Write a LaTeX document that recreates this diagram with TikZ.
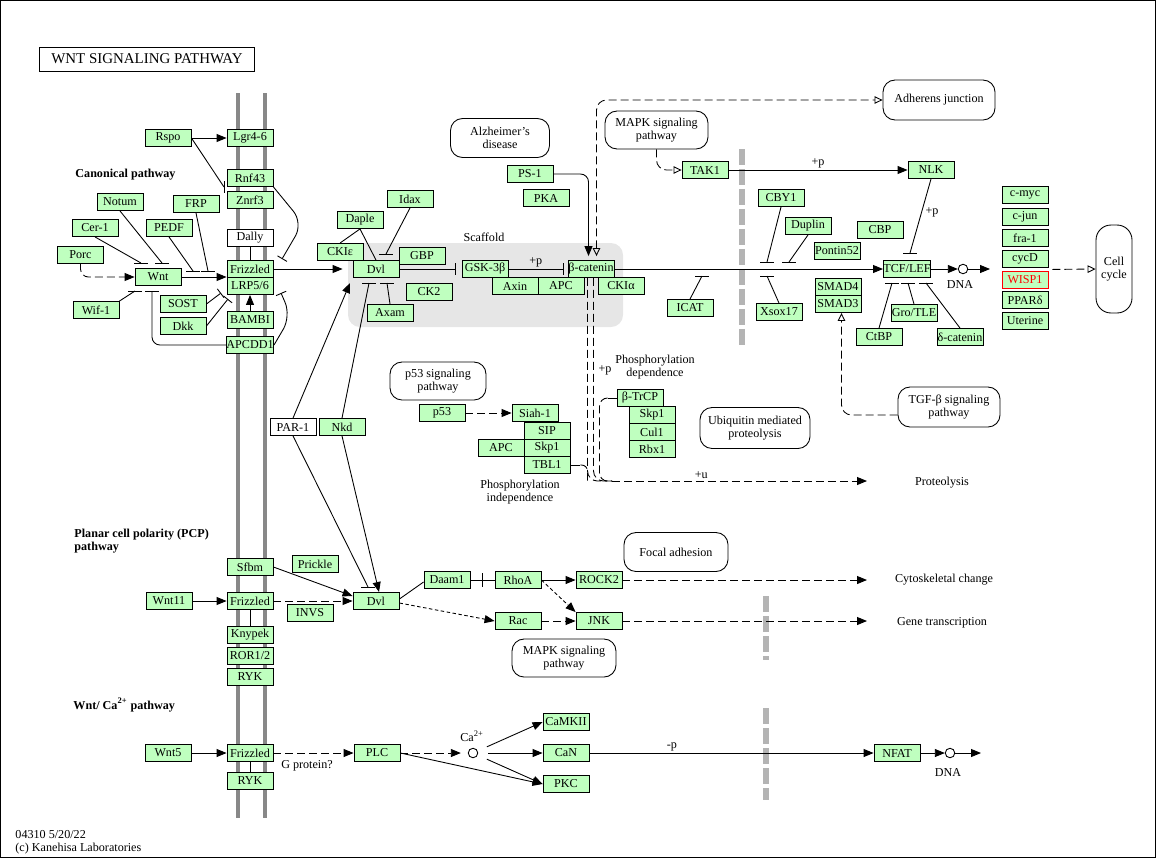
\documentclass[tikz,border=0pt]{standalone}
\usepackage{fontspec}
\setmainfont{Liberation Serif}
\usetikzlibrary{arrows.meta}
\definecolor{kgreen}{HTML}{BFFFBF}
\definecolor{memgray}{HTML}{888888}
\definecolor{dashgray}{HTML}{B4B4B4}
\definecolor{scafgray}{HTML}{E6E6E6}
\newcommand{\kfont}{\fontsize{6.9}{7.2}\selectfont}
% short inhibition bars, horizontal and vertical
\newcommand{\hinh}[1]{\draw (#1) ++(-7,0) -- ++(14,0);}
\newcommand{\vinh}[1]{\draw (#1) ++(0,-6) -- ++(0,12);}

\begin{document}
\begin{tikzpicture}[x=0.02cm, y=-0.02cm, line width=0.5pt, font=\kfont,
    gene/.style={draw, fill=kgreen, minimum width=0.92cm, minimum height=0.34cm, inner sep=0pt},
    whitebox/.style={draw, fill=white, minimum width=0.92cm, minimum height=0.34cm, inner sep=0pt},
    maplink/.style={draw, fill=white, rounded corners=0.24cm, align=center, inner sep=0pt},
    lbl/.style={inner sep=0pt, align=center},
    act/.style={-{Triangle[length=0.2cm,width=0.16cm]}},
    link/.style={-{Triangle[open,length=0.16cm,width=0.15cm]}},
    inh/.style={-{Bar[width=0.22cm]}},
    indirect/.style={dash pattern=on 0.16cm off 0.08cm},
    dotline/.style={dash pattern=on 0.07cm off 0.05cm},
    membrane/.style={memgray, line width=2.2pt},
    nucl/.style={dashgray, line width=3.4pt, dash pattern=on 0.32cm off 0.08cm},
    dnac/.style={draw, circle, fill=white, minimum size=0.19cm, inner sep=0pt}]
  \useasboundingbox (0,0) rectangle (1158,859);
  \draw (0.5,0.5) rectangle (1155.5,857.5);
  \node[draw, minimum width=4.3cm, minimum height=0.48cm, inner sep=0pt, font=\fontsize{8.5}{9}\selectfont] (title) at (147,59) {WNT SIGNALING PATHWAY};

  % cell membrane, nuclear membrane, scaffold
  \draw[membrane] (238,93) -- (238,818);
  \draw[membrane] (265,93) -- (265,818);
  \fill[scafgray, rounded corners=0.24cm] (348,243) rectangle (623,327);
  \node[lbl] (scaf) at (484,237) {Scaffold};
  \draw[nucl] (742,149) -- (742,345);
  \draw[nucl] (766,596) -- (766,660);
  \draw[nucl] (766,708) -- (766,800);

  \node[lbl, anchor=west, font=\kfont\bfseries] (canon) at (75,175) {Canonical pathway};
  \node[lbl, anchor=west, align=left, font=\kfont\bfseries] (pcp) at (74,541) {Planar cell polarity (PCP)\\pathway};
  \node[lbl, anchor=west, font=\kfont\bfseries] (capath) at (73,705) {Wnt/ Ca\textsuperscript{2+} pathway};
  \node[lbl, anchor=west, align=left] (foot) at (15,842) {04310 5/20/22\\(c) Kanehisa Laboratories};

  % canonical pathway, outside the cell
  \node[gene] (rspo) at (168,138) {Rspo};
  \node[gene] (lgr) at (250,138) {Lgr4-6};
  \node[gene] (rnf) at (250,178) {Rnf43};
  \node[gene] (znrf) at (250,200) {Znrf3};
  \node[whitebox] (dally) at (250,238) {Dally};
  \node[gene] (fzd) at (250,269) {Frizzled};
  \node[gene] (lrp) at (250,286) {LRP5/6};
  \node[gene] (bambi) at (250,320) {BAMBI};
  \node[gene] (apcdd) at (250,345) {APCDD1};
  \node[gene] (notum) at (120,202) {Notum};
  \node[gene] (frp) at (196,204) {FRP};
  \node[gene] (cer) at (95,228) {Cer-1};
  \node[gene] (pedf) at (169,228) {PEDF};
  \node[gene] (porc) at (80.5,255) {Porc};
  \node[gene] (wnt) at (158,277) {Wnt};
  \node[gene] (wif) at (96,310) {Wif-1};
  \node[gene] (sost) at (183,304) {SOST};
  \node[gene] (dkk) at (183,326) {Dkk};

  % scaffold
  \node[gene] (dvl) at (376,269) {Dvl};
  \node[gene] (ckie) at (340,252) {CKIε};
  \node[gene] (daple) at (360,220) {Daple};
  \node[gene] (idax) at (410,199) {Idax};
  \node[gene] (gbp) at (422,256) {GBP};
  \node[gene] (ck2) at (429,292) {CK2};
  \node[gene] (axam) at (390,313) {Axam};
  \node[gene] (gsk) at (485,269) {GSK-3β};
  \node[gene] (axin) at (515,286) {Axin};
  \node[gene] (apc) at (561,286) {APC};
  \node[gene] (bcat) at (591,269) {β-catenin};
  \node[gene] (ckia) at (621,286) {CKIα};
  \node[gene] (ps1) at (530,174) {PS-1};
  \node[gene] (pka) at (546,198) {PKA};
  \node[maplink, minimum width=1.98cm, minimum height=0.78cm] (alz) at (500,138) {Alzheimer's\\disease};
  \node[whitebox] (par) at (293,427) {PAR-1};
  \node[gene] (nkd) at (342,427) {Nkd};

  % nucleus side
  \node[maplink, minimum width=2.24cm, minimum height=0.8cm] (aj) at (939,100) {Adherens junction};
  \node[maplink, minimum width=2.06cm, minimum height=0.76cm] (mapka) at (656.5,130) {MAPK signaling\\pathway};
  \node[gene] (tak) at (705,170) {TAK1};
  \node[gene] (nlk) at (931,170) {NLK};
  \node[gene] (cby) at (781,198) {CBY1};
  \node[gene] (duplin) at (808,226) {Duplin};
  \node[gene] (cbp) at (880,230) {CBP};
  \node[gene] (pontin) at (837,251) {Pontin52};
  \node[gene] (tcf) at (907,269) {TCF/LEF};
  \node[gene] (smadf) at (838,287) {SMAD4};
  \node[gene] (smadt) at (838,304) {SMAD3};
  \node[gene] (icat) at (690,308) {ICAT};
  \node[gene] (xsox) at (779,312) {Xsox17};
  \node[gene] (gro) at (914,313) {Gro/TLE};
  \node[gene] (ctbp) at (879,337) {CtBP};
  \node[gene] (dcat) at (960,337) {δ-catenin};
  \node[dnac] (dnaa) at (963,269) {};
  \node[lbl] (dnaal) at (960,285) {DNA};
  \foreach \n/\t/\y in {myc/c-myc/195, jun/c-jun/217, fra/fra-1/238, cycd/cycD/259, ppar/PPARδ/300, ute/Uterine/321}
    \node[gene] (\n) at (1025,\y) {\t};
  \node[gene, draw=red, text=red] (wisp) at (1025,280) {WISP1};
  \node[maplink, minimum width=0.72cm, minimum height=1.76cm, rounded corners=0.3cm] (cc) at (1114,269) {Cell\\cycle};

  % degradation
  \node[maplink, minimum width=1.92cm, minimum height=0.76cm] (pft) at (438,381) {p53 signaling\\pathway};
  \node[gene] (p53) at (442,413) {p53};
  \node[gene] (siah) at (535,413) {Siah-1};
  \node[gene] (sip) at (547,431) {SIP};
  \node[gene] (skpa) at (547,448) {Skp1};
  \node[gene] (apcb) at (501,448) {APC};
  \node[gene] (tbl) at (547,465) {TBL1};
  \node[lbl] (phind) at (520,492) {Phosphorylation\\independence};
  \node[lbl] (php) at (605,370) {+p};
  \node[lbl] (phdep) at (655,367) {Phosphorylation\\dependence};
  \node[gene] (btrcp) at (640,398) {β-TrCP};
  \node[gene] (skpb) at (652,415) {Skp1};
  \node[gene] (cul) at (652,432) {Cul1};
  \node[gene] (rbx) at (652,449) {Rbx1};
  \node[maplink, minimum width=2.2cm, minimum height=0.82cm] (ubq) at (755,428) {Ubiquitin mediated\\proteolysis};
  \node[maplink, minimum width=2.04cm, minimum height=0.8cm] (tgf) at (949,407) {TGF-β signaling\\pathway};
  \node[lbl] (prot) at (942,483) {Proteolysis};

  % PCP pathway
  \node[gene] (sfbm) at (250,567) {Sfbm};
  \node[gene] (wnteleven) at (169,601) {Wnt11};
  \node[gene] (fzdb) at (250,601) {Frizzled};
  \node[gene] (knypek) at (250,635) {Knypek};
  \node[gene] (ror) at (250,656) {ROR1/2};
  \node[gene] (ryk) at (250,677) {RYK};
  \node[gene] (prickle) at (315,564) {Prickle};
  \node[gene] (invs) at (310,613) {INVS};
  \node[gene] (dvlb) at (376,601) {Dvl};
  \node[gene] (daam) at (447,580) {Daam1};
  \node[gene] (rhoa) at (518,580) {RhoA};
  \node[gene] (rock) at (599,580) {ROCK2};
  \node[gene] (rac) at (518,621) {Rac};
  \node[gene] (jnk) at (599,621) {JNK};
  \node[maplink, minimum width=2.08cm, minimum height=0.78cm] (focal) at (676,552) {Focal adhesion};
  \node[maplink, minimum width=2.08cm, minimum height=0.76cm] (mapkb) at (564,658) {MAPK signaling\\pathway};
  \node[lbl] (cyto) at (944,580) {Cytoskeletal change};
  \node[lbl] (genetx) at (942,623) {Gene transcription};

  % Ca2+ pathway
  \node[gene] (wntfive) at (168,753) {Wnt5};
  \node[gene] (fzdc) at (250,753) {Frizzled};
  \node[gene] (rykb) at (250,781) {RYK};
  \node[lbl] (gprot) at (307,766) {G protein?};
  \node[gene] (plc) at (377,753) {PLC};
  \node[dnac] (ca) at (473,753) {};
  \node[lbl] (cal) at (472,736) {Ca\textsuperscript{2+}};
  \node[gene] (camk) at (566,722) {CaMKII};
  \node[gene] (can) at (566,753) {CaN};
  \node[gene] (pkc) at (566,784) {PKC};
  \node[gene] (nfat) at (897,753) {NFAT};
  \node[dnac] (dnab) at (950,753) {};
  \node[lbl] (dnabl) at (948,772) {DNA};

  % free ends of connectors
  \coordinate (rnfbar) at (224,187);
  \coordinate (notumbar) at (162,263);
  \coordinate (cerbar) at (141,263);
  \coordinate (pedfbar) at (193,271);
  \coordinate (frpbar) at (208,271);
  \coordinate (wifbar) at (135,291);
  \coordinate (apcbar) at (152,291);
  \coordinate (sostbar) at (221,293);
  \coordinate (dkkbar) at (228,299);
  \coordinate (idaxbar) at (386,254);
  \coordinate (gskbar) at (455,269);
  \coordinate (bcatbar) at (563,269);
  \coordinate (axambar) at (387,283);
  \coordinate (dvlpar) at (350,283);
  \coordinate (dvlnkd) at (369,283);
  \coordinate (dvlbpar) at (368,587);
  \coordinate (dvlbnkd) at (379,592);
  \coordinate (tcfbar) at (910,253);
  \coordinate (cbybar) at (767,262);
  \coordinate (duplinbar) at (789,262);
  \coordinate (xsoxbar) at (767,276);
  \coordinate (icatbar) at (702,276);
  \coordinate (ctbpbar) at (892,283);
  \coordinate (grobar) at (908,283);
  \coordinate (dcatbar) at (926,283);
  \coordinate (dnaaend) at (990,269);
  \coordinate (ustart) at (612,481);
  \coordinate (uend) at (867,481);
  \coordinate (cytoend) at (867,580);
  \coordinate (geneend) at (867,621);
  \coordinate (dnabend) at (981,753);

  % canonical, at the membrane
  \draw[act] (rspo) -- (lgr);
  \draw (rspo.east) -- (rnfbar); \vinh{rnfbar}
  \draw[inh, rounded corners=0.3cm] (rnf.south east) -- (303,223) -- (282,259);
  \draw (notum.south) -- (notumbar); \hinh{notumbar}
  \draw (cer.south) -- (cerbar); \hinh{cerbar}
  \draw (pedf.south) -- (pedfbar); \hinh{pedfbar}
  \draw (frp.south) -- (frpbar); \hinh{frpbar}
  \draw (wif.north east) -- (wifbar); \hinh{wifbar}
  \draw[rounded corners=0.16cm] (apcdd.west) -| (apcbar); \hinh{apcbar}
  \draw[inh] (sost.east) -- (sostbar);
  \draw[inh] (dkk.east) -- (dkkbar);
  \draw[inh, rounded corners=0.3cm] (apcdd.east) -- (291,316) -- (281,293);
  \draw (dally.south) -- (fzd.north);
  \draw[act] (bambi.north) -- (lrp.south);
  \draw[indirect, act, rounded corners=0.16cm] (porc.south) |- (wnt.west);
  \draw[act] (wnt.east) -- (wnt.east -| fzd.west);

  % canonical, in the cytoplasm
  \draw[act, shorten >=0.2cm] (fzd.east) -- (dvl.west);
  \draw (daple.south) -- (ckie.north);
  \draw (daple.south) -- (dvl.north);
  \draw (idax.south) -- (idaxbar); \hinh{idaxbar}
  \draw (dvl.east) -- (gskbar); \vinh{gskbar}
  \draw (gsk.east) -- node[lbl, anchor=south, inner sep=1pt] {+p} (bcatbar); \vinh{bcatbar}
  \draw[act, rounded corners=0.16cm, shorten >=0.08cm] (ps1.east) -| ([xshift=-0.05cm]bcat.north);
  \draw (axam.north) -- (axambar); \hinh{axambar}
  \draw[act] (par.north) -- (dvlpar);
  \draw (nkd.north) -- (dvlnkd); \hinh{dvlnkd}
  \draw (par.south) -- (dvlbpar); \hinh{dvlbpar}
  \draw[act] (nkd.south) -- (dvlbnkd);
  \draw[indirect, {Triangle[open,length=0.16cm,width=0.15cm]}-{Triangle[open,length=0.16cm,width=0.15cm]}, rounded corners=0.2cm, shorten <=0.08cm] ([xshift=0.11cm]bcat.north) |- (aj.west);

  % degradation of beta-catenin
  \draw[indirect, rounded corners=0.2cm] ([xshift=-0.07cm]bcat.south) |- (ustart);
  \draw[indirect, rounded corners=0.2cm] ([xshift=0.05cm]bcat.south) |- (ustart);
  \draw (btrcp.west) -- ++(-9,0) coordinate (bt);
  \draw[indirect, rounded corners=0.16cm] (bt) -| (599.5,440) |- (ustart);
  \draw (tbl.east) -- ++(10,0) coordinate (tb);
  \draw[indirect, rounded corners=0.12cm] (tb) -| (587.5,481);
  \draw[indirect, act] (ustart) -- node[lbl, anchor=south, inner sep=1pt, pos=0.35] {+u} (uend);
  \draw[indirect, act] (p53) -- (siah);

  % nucleus
  \draw[indirect, link, rounded corners=0.2cm] (mapka.south) |- (tak.west);
  \draw[act] (tak) -- node[lbl, anchor=south, inner sep=1pt] {+p} (nlk);
  \draw (nlk.south) -- node[lbl, right=2pt, pos=0.45] {+p} (tcfbar); \hinh{tcfbar}
  \draw (cby.south) -- (cbybar); \hinh{cbybar}
  \draw (duplin.south) -- (duplinbar); \hinh{duplinbar}
  \draw (xsox.north) -- (xsoxbar); \hinh{xsoxbar}
  \draw (icat.north) -- (icatbar); \hinh{icatbar}
  \draw (ctbp.north) -- (ctbpbar); \hinh{ctbpbar}
  \draw (gro.north) -- (grobar); \hinh{grobar}
  \draw (dcat.north) -- (dcatbar); \hinh{dcatbar}
  \draw[act] (bcat.east) -- (tcf.west);
  \draw[act] (tcf.east) -- (dnaa.west);
  \draw[act] (dnaa.east) -- (dnaaend);
  \draw[indirect, link] ([shift={(0.08cm,-0.03cm)}]cycd.south east) -- (cc.west);
  \draw[indirect, link, rounded corners=0.2cm] ([yshift=-0.16cm]tgf.west) -| ([xshift=0.07cm]smadt.south);

  % PCP
  \draw[act] (wnteleven) -- (fzdb);
  \draw (fzdb.south) -- (knypek.north);
  \draw[act] (sfbm.east) -- ([yshift=0.1cm]dvlb.west);
  \draw[indirect, act] (fzdb.east) -- (dvlb.west);
  \draw ([yshift=0.04cm]dvlb.east) -- ([yshift=-0.04cm]daam.west);
  \draw (daam) -- (rhoa);
  \draw (482,573) -- (482,587);
  \draw[act] (rhoa) -- (rock);
  \draw[dotline, act] (rhoa.east) -- (jnk.north west);
  \draw[dotline, act] ([yshift=-0.04cm]dvlb.east) -- (rac.west);
  \draw[indirect, act] (rac) -- (jnk);
  \draw[indirect, act] (rock.east) -- (cytoend);
  \draw[indirect, act] (jnk.east) -- (geneend);

  % Ca2+
  \draw[act] (wntfive) -- (fzdc);
  \draw (fzdc.south) -- (rykb.north);
  \draw[indirect, act] (fzdc) -- (plc);
  \draw[indirect, act, shorten >=0.14cm] (plc) -- (ca);
  \draw[act, shorten <=0.2cm] (ca) -- (camk.west);
  \draw[act, shorten <=0.2cm] (ca) -- (can.west);
  \draw[act, shorten <=0.2cm] (ca) -- (pkc.west);
  \draw[act] (plc.east) -- (pkc.west);
  \draw[act] (can) -- node[lbl, anchor=south, inner sep=1pt, pos=0.29] {-p} (nfat);
  \draw[act] (nfat) -- (dnab);
  \draw[act] (dnab.east) -- (dnabend);
\end{tikzpicture}
\end{document}
